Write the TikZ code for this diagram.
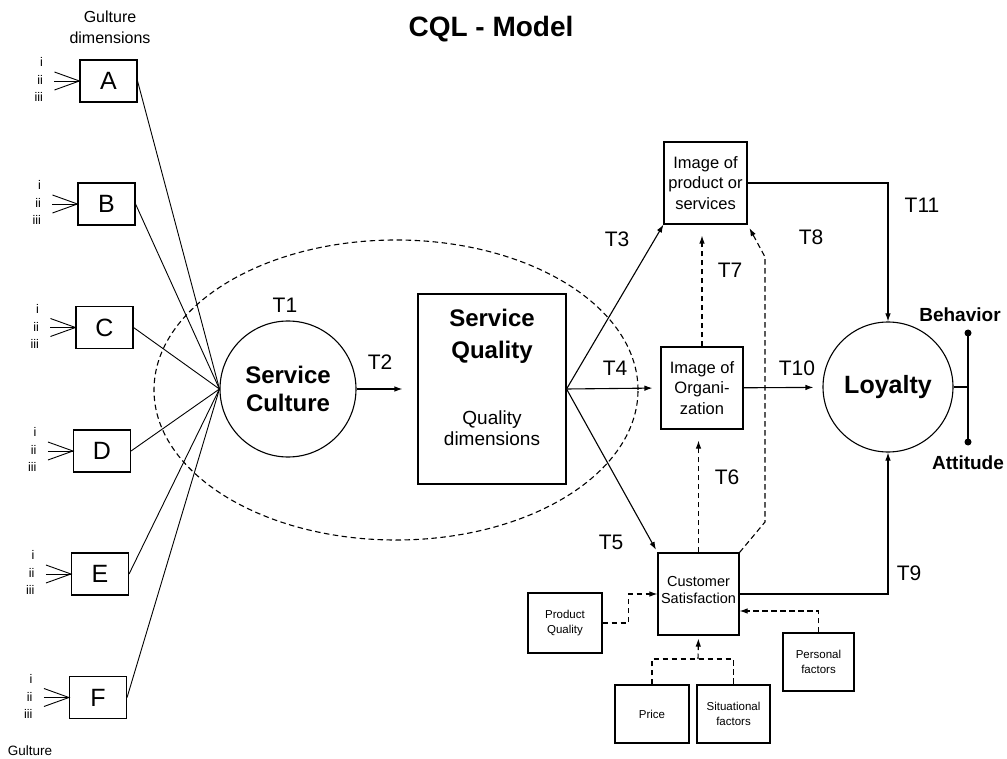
\documentclass[tikz,border=0pt]{standalone}
\usepackage{fontspec}
\setmainfont{Liberation Sans}
\usetikzlibrary{arrows.meta,shapes.geometric,calc}
\newcommand{\setfs}[2]{\fontsize{#1}{#2}\selectfont}

\begin{document}
\begin{tikzpicture}[x=1pt,y=-1pt,
  line width=1.1pt,
  arr/.style={-{Latex[length=8pt,width=5.5pt]}},
  dline/.style={dash pattern=on 5.5pt off 3.5pt},
  dasharr/.style={arr,dline},
  letterbox/.style={draw,minimum width=57pt,minimum height=42pt,inner sep=0pt,font=\setfs{25}{28}},
  roman/.style={anchor=east,inner sep=0pt,font=\setfs{12.5}{13}},
  fanline/.style={line width=0.9pt},
  tlabel/.style={inner sep=0pt,font=\setfs{21}{24}},
  imgbox/.style={draw,minimum width=83pt,minimum height=82pt,inner sep=0pt,align=center,font=\setfs{16.5}{20.5}},
  smallbox/.style={draw,minimum width=74pt,minimum height=58pt,inner sep=0pt,align=center,font=\setfs{11.5}{15}},
  boldtxt/.style={inner sep=0pt,align=center,font=\bfseries\setfs{24}{30}}
]
\useasboundingbox (0,0) rectangle (1007,759);

% title and side captions
\node[font=\bfseries\setfs{28}{30},anchor=base] (title) at (491,37) {CQL - Model};
\node[align=center,font=\setfs{16}{21}] (gdim) at (110,27) {Gulture\\dimensions};
\node[font=\setfs{13.5}{15}] (gbot) at (30,751) {Gulture};

% culture dimension boxes
\node[letterbox] (A) at (108.5,81) {A};
\node[letterbox] (B) at (106.5,204) {B};
\node[letterbox] (C) at (104.5,327.5) {C};
\node[letterbox] (D) at (102,451) {D};
\node[letterbox] (E) at (100,574) {E};
\node[letterbox] (F) at (98,697.5) {F};

% service culture, enclosing ellipse, service quality
\node[draw,ellipse,dline,minimum width=484pt,minimum height=300pt] (ell) at (396,390) {};
\node[draw,circle,minimum size=136pt,inner sep=0pt,align=center,font=\bfseries\setfs{24}{28}] (SC) at (288,389) {Service\\Culture};
\node[draw,minimum width=148pt,minimum height=190pt,inner sep=0pt] (SQ) at (492,389) {};
\node[boldtxt,font=\bfseries\setfs{24}{32}] (sqt) at (492,336) {Service\\Quality};
\node[inner sep=0pt,align=center,font=\setfs{19}{21}] (sqd) at (492,428) {Quality\\dimensions};

% image, satisfaction and loyalty nodes
\node[imgbox] (IP) at (705.5,183) {Image of\\product or\\services};
\node[imgbox,minimum width=82pt] (IO) at (702,388) {Image of\\Organi-\\zation};
\node[draw,minimum width=81pt,minimum height=82pt,inner sep=0pt] (CS) at (698.5,594) {};
\node[inner sep=0pt,align=center,font=\setfs{14.5}{17}] (cst) at (698.5,590) {Customer\\Satisfaction};
\node[draw,circle,minimum size=130pt,inner sep=0pt,font=\bfseries\setfs{25}{28}] (LO) at (888,387) {Loyalty};

% factors feeding satisfaction
\node[smallbox,minimum height=60pt] (PQ) at (565,623) {Product\\Quality};
\node[smallbox] (PR) at (652,714) {Price};
\node[smallbox,minimum width=73pt] (SI) at (733.5,714) {Situational\\factors};
\node[smallbox,minimum width=71pt] (PF) at (818.5,662) {Personal\\factors};

% inputs i/ii/iii and lines into service culture
\foreach \b in {A,B,C,D,E,F}{
  \draw[fanline] ($(\b.west)+(-25,-9)$) -- (\b.west) -- ($(\b.west)+(-25,9)$);
  \draw[fanline] ($(\b.west)+(-25,0)$) -- (\b.west);
  \node[roman] at ($(\b.west)+(-36,-19)$) {i};
  \node[roman] at ($(\b.west)+(-36,-1)$) {ii};
  \node[roman] at ($(\b.west)+(-36,16)$) {iii};
  \draw[fanline] (\b.east) -- (SC.west);
}

% main paths
\draw[arr,shorten >=15pt] (SC) -- (SQ);
\draw[arr] (SQ.east) -- (IP.south west);
\draw[arr,shorten >=8pt] (SQ.east) -- (IO.west);
\draw[arr,shorten >=3pt] (SQ.east) -- (CS.north west);
\draw[dasharr,shorten >=11pt] (CS.north) -- (CS.north |- IO.south);
\draw[dasharr,shorten >=11pt] (IO.north) -- (IO.north |- IP.south);
\coordinate (t8a) at (765,522);
\coordinate (t8b) at (765,257);
\draw[dasharr,shorten >=4pt] (CS.north east) -- (t8a) -- (t8b) -- (IP.south east);
\draw[arr,shorten >=9pt] (IO) -- (LO);
\draw[arr] (IP.east) -| (LO.north);
\draw[arr] (CS.east) -| (LO.south);

% factor connectors
\draw[dasharr] (PQ.east) -- ++(26,0) |- (CS.west);
\coordinate (ps) at (698,659);
\draw[dline] (PR.north) |- (ps) -| (SI.north);
\draw[dasharr,shorten >=3pt] (ps) -- (CS.south);
\draw[dasharr] (PF.north) |- ([yshift=-17pt]CS.east);

% behaviour / attitude
\coordinate (bh) at (968,333);
\coordinate (at) at (968,442);
\draw (bh) -- (at);
\fill (bh) circle (3.5pt);
\fill (at) circle (3.5pt);
\draw (LO.east) -- (LO.east -| bh);
\node[font=\bfseries\setfs{19}{21}] (beh) at (960,315) {Behavior};
\node[font=\bfseries\setfs{19}{21}] (att) at (968,463) {Attitude};

% path labels
\node[tlabel] (t1) at (285,305) {T1};
\node[tlabel] (t2) at (380,362) {T2};
\node[tlabel] (t3) at (617,239) {T3};
\node[tlabel] (t4) at (615,368) {T4};
\node[tlabel] (t5) at (611,542) {T5};
\node[tlabel] (t6) at (727,477) {T6};
\node[tlabel] (t7) at (730,270) {T7};
\node[tlabel] (t8) at (811,237) {T8};
\node[tlabel] (t9) at (909,573) {T9};
\node[tlabel] (t10) at (797,368) {T10};
\node[tlabel] (t11) at (922,205) {T11};
\end{tikzpicture}
\end{document}
